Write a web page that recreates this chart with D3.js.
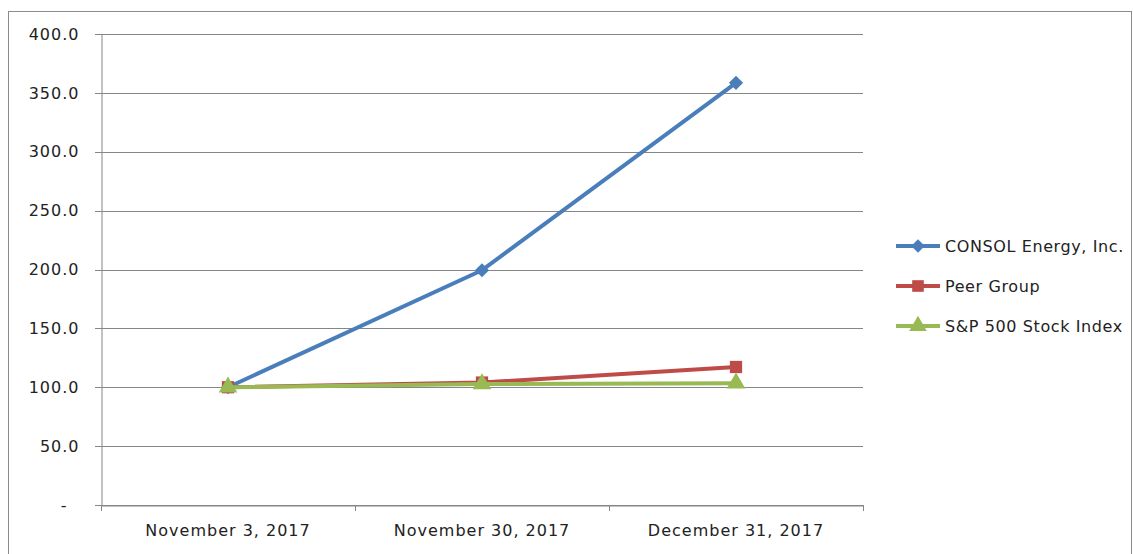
<!DOCTYPE html>
<html>
<head>
<meta charset="utf-8">
<script src="https://cdn.jsdelivr.net/npm/d3@7"></script>
<style>
  body { margin: 0; background: #fff; }
  text { font-family: "DejaVu Sans", Verdana, sans-serif; fill: #222; }
</style>
</head>
<body>
<svg id="chart" width="1133" height="554"></svg>
<script>
// chart data
const dates = ["November 3, 2017", "November 30, 2017", "December 31, 2017"];
const consol = [100.0, 199.4, 358.5];
const peer = [100.0, 104.0, 117.2];
const sp500 = [100.0, 102.8, 103.4];
const seriesNames = ["CONSOL Energy, Inc.", "Peer Group", "S&P 500 Stock Index"];
const yTicks = [0, 50, 100, 150, 200, 250, 300, 350, 400];

const colors = ["#4A7EBB", "#BE4B48", "#98B954"];
// diamond = square turned 45 degrees
const markers = [d3.symbolSquare, d3.symbolSquare, d3.symbolTriangle];
const markerRot = [45, 0, 0];
const markerSize = [100, 150, 150];

let svg = d3.select("#chart");

// outer frame
svg.append("rect")
    .attr("x", 8.5).attr("y", 11.5)
    .attr("width", 1123).attr("height", 560)
    .attr("fill", "none").attr("stroke", "#8c8c8c");

let x = d3.scaleBand().domain(dates).range([101, 863]);
let y = d3.scaleLinear().domain([0, 400]).range([505, 34]);

// gridlines
svg.append("g").selectAll("line").data(yTicks).enter().append("line")
    .attr("x1", 95).attr("x2", 863)
    .attr("y1", d => Math.round(y(d)) + 0.5).attr("y2", d => Math.round(y(d)) + 0.5)
    .attr("stroke", "#868686").attr("stroke-width", 1);

// y axis
let yAxis = d3.axisLeft(y).tickValues(yTicks).tickSize(0).tickPadding(22)
    .tickFormat(d => d === 0 ? "-" : d3.format(".1f")(d));
let gy = svg.append("g").attr("transform", "translate(101.5,0)").call(yAxis);
gy.select(".domain").attr("stroke", "#868686");
gy.selectAll("text").style("font-size", "16px").style("letter-spacing", "1px").attr("fill", "#222");
gy.selectAll(".tick text").filter(d => d === 0).attr("dx", -12);

// x axis
let xAxis = d3.axisBottom(x).tickSize(0).tickPadding(19);
let gx = svg.append("g").attr("transform", "translate(0,505.5)").call(xAxis);
gx.select(".domain").attr("stroke", "#868686");
gx.selectAll("text").style("font-size", "16px").style("letter-spacing", "1px").attr("fill", "#222");
// category separators
svg.append("g").selectAll("line").data([0, 1, 2, 3]).enter().append("line")
    .attr("x1", i => Math.round(101 + i * x.step()) + 0.5)
    .attr("x2", i => Math.round(101 + i * x.step()) + 0.5)
    .attr("y1", 505).attr("y2", 511)
    .attr("stroke", "#868686");

// series
let allSeries = [consol, peer, sp500];
let line = d3.line().x((d, i) => x(dates[i]) + x.bandwidth() / 2).y(d => y(d));

allSeries.forEach((vals, k) => {
    svg.append("path").datum(vals)
        .attr("d", line)
        .attr("fill", "none")
        .attr("stroke", colors[k])
        .attr("stroke-width", 4)
        .attr("stroke-linejoin", "round");
    svg.append("g").selectAll("path").data(vals).enter().append("path")
        .attr("transform", (d, i) => "translate(" + (x(dates[i]) + x.bandwidth() / 2) + "," + y(d) + ") rotate(" + markerRot[k] + ")")
        .attr("d", d3.symbol().type(markers[k]).size(markerSize[k]))
        .attr("fill", colors[k]);
});

// legend
let legend = svg.append("g").selectAll("g").data(seriesNames).enter().append("g")
    .attr("transform", (d, i) => "translate(896," + (246 + i * 40) + ")");
legend.append("line")
    .attr("x1", 0).attr("x2", 44).attr("y1", 0).attr("y2", 0)
    .attr("stroke", (d, i) => colors[i]).attr("stroke-width", 4);
legend.append("path")
    .attr("transform", (d, i) => "translate(22,0) rotate(" + markerRot[i] + ")")
    .attr("d", (d, i) => d3.symbol().type(markers[i]).size(markerSize[i] * 0.9)())
    .attr("fill", (d, i) => colors[i]);
legend.append("text")
    .attr("x", 49).attr("y", 6)
    .style("font-size", "16px")
    .style("letter-spacing", "0.6px")
    .text(d => d);
</script>
</body>
</html>
